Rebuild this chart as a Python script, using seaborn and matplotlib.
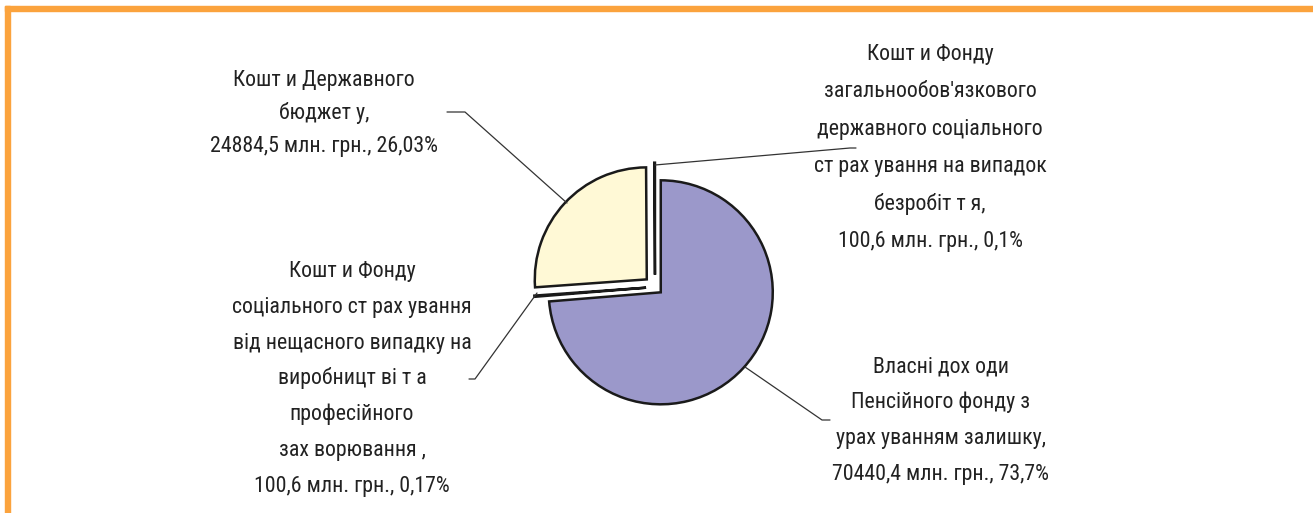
import matplotlib
matplotlib.use("Agg")
import matplotlib.pyplot as plt
import seaborn as sns
from matplotlib.patches import Rectangle
from matplotlib import font_manager

sns.set_theme(style="white")

# ---- data ----
categories = [
    "Власні доходи Пенсійного фонду з урахуванням залишку",
    "Кошти Фонду соціального страхування від нещасного випадку",
    "Кошти Державного бюджету",
    "Кошти Фонду загальнообов'язкового страхування на випадок безробіття",
]
shares = [73.7, 0.17, 26.03, 0.1]
colors = ["#9B98CA", "#FFFFFF", "#FFF9D6", "#FFFFFF"]
explode = [0.07, 0.08, 0.10, 0.11]

label_lines = [
    ["Власні дох оди", "Пенсійного фонду з", "урах уванням залишку,", "70440,4 млн. грн., 73,7%"],
    ["Кошт и Фонду", "соціального ст рах ування", "від нещасного випадку на",
     "виробницт ві т а", "професійного", "зах ворювання ,", "100,6 млн. грн., 0,17%"],
    ["Кошт и Державного", "бюджет у,", "24884,5 млн. грн., 26,03%"],
    ["Кошт и Фонду", "загальнообов'язкового", "державного соціального",
     "ст рах ування на випадок", "безробіт т я,", "100,6 млн. грн., 0,1%"],
]

# ---- pick a narrow font if one is installed ----
entries = font_manager.fontManager.ttflist
names = {f.name for f in entries}
family, stretch = "Liberation Sans", "normal"
for cand in ["Liberation Sans Narrow", "Arial Narrow", "Roboto Condensed",
             "Open Sans Condensed", "Noto Sans Condensed", "DejaVu Sans Condensed"]:
    if cand in names:
        family, stretch = cand, "normal"
        break
else:
    for f in entries:
        if f.name in ("Liberation Sans", "Roboto", "Noto Sans", "DejaVu Sans") and \
                str(f.stretch) in ("condensed", "semi-condensed", "extra-condensed"):
            family, stretch = f.name, str(f.stretch)
            break
plt.rcParams['font.family'] = [family, 'DejaVu Sans']

W, H = 1313, 513
fig = plt.figure(figsize=(W / 100, H / 100), dpi=100)
ax = fig.add_axes([0, 0, 1, 1])
ax.set_xlim(0, W)
ax.set_ylim(0, H)
ax.set_aspect("equal")
ax.axis("off")

# size the font so that a reference line has the reference width (228 px)
renderer = fig.canvas.get_renderer()
probe = ax.text(0, 0, "24884,5 млн. грн., 26,03%", fontsize=16, fontstretch=stretch)
wpx = probe.get_window_extent(renderer).width
probe.remove()
fsize = 16 * 228 / wpx

cx, cy, R = 655, H - 287, 112
wedges, _ = ax.pie(shares, colors=colors, explode=[e * R for e in explode], startangle=90,
                   counterclock=False, center=(cx, cy), radius=R,
                   wedgeprops=dict(edgecolor="#1a1a1a", linewidth=1.8))
ax.set_xlim(0, W)
ax.set_ylim(0, H)

# labels: (center x, first baseline y px, line step px)
label_pos = [(941, 372, 36), (352, 277, 35.8), (324, 86, 33), (930, 60, 37.4)]
for lines, (lx, ly, step) in zip(label_lines, label_pos):
    for i, t in enumerate(lines):
        ax.text(lx, H - (ly + i * step), t, ha="center", va="baseline",
                fontsize=fsize, fontstretch=stretch, color="#222222")

# leader lines (pixel coords)
leaders = [
    [(745, 367), (822, 420), (830, 420)],
    [(537, 293), (475, 379), (469, 379)],
    [(567, 203), (465, 112), (447, 112)],
    [(655, 165), (850, 148), (856, 148)],
]
for pts in leaders:
    xs = [p[0] for p in pts]
    ys = [H - p[1] for p in pts]
    ax.plot(xs, ys, color="#333333", lw=0.9)

# orange frame
orange = "#FBA33D"
fig.patches.append(Rectangle((5 / W, 0), 5 / W, (H - 6) / H, transform=fig.transFigure,
                             color=orange, zorder=10))
fig.patches.append(Rectangle((5 / W, (H - 11) / H), 1, 5 / H, transform=fig.transFigure,
                             color=orange, zorder=10))

fig.savefig("out.png", dpi=100, facecolor="white")
